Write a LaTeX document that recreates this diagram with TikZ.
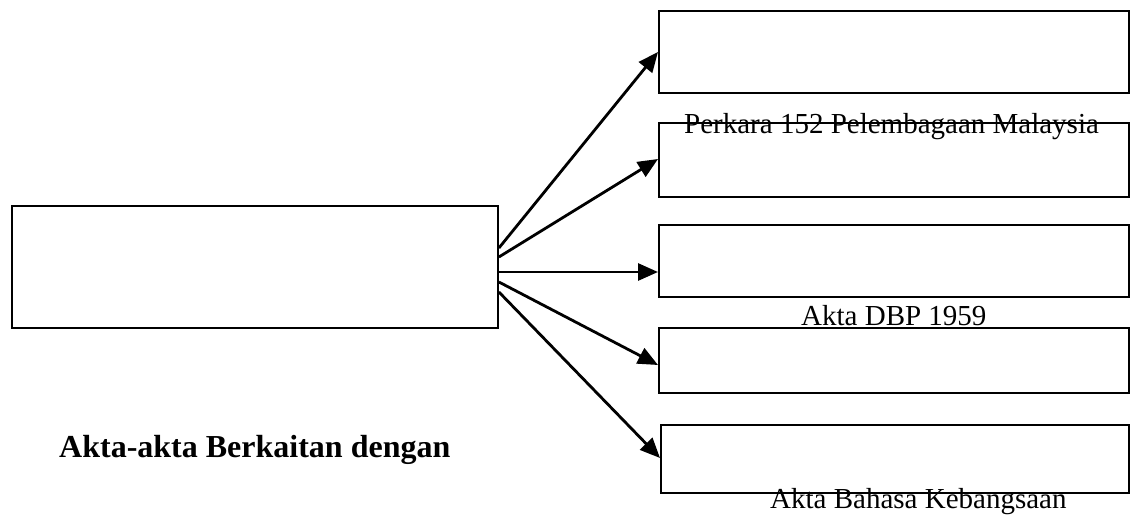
\documentclass[tikz,border=0pt]{standalone}
\usepackage{fontspec}
\setmainfont{Liberation Serif}
\usetikzlibrary{arrows.meta}
\begin{document}
\begin{tikzpicture}[x=1pt,y=-1pt,
  box/.style={draw, line width=1.9pt, rectangle, inner sep=0pt, anchor=north west},
  arr/.style={line width=2.8pt, -{Triangle[length=20pt,width=17pt]}},
  lbl/.style={anchor=base west, inner sep=0pt, font=\fontsize{29}{33}\selectfont},
  ttl/.style={anchor=base west, inner sep=0pt, font=\fontsize{32}{36}\selectfont\bfseries}]
\useasboundingbox (0,0) rectangle (1133,515);
\node[box, minimum width=486pt, minimum height=122pt] (L) at (11,205) {};
\node[box, minimum width=470pt, minimum height=82pt] (B1) at (658,10) {};
\node[box, minimum width=470pt, minimum height=74pt] (B2) at (658,122) {};
\node[box, minimum width=470pt, minimum height=72pt] (B3) at (658,224) {};
\node[box, minimum width=470pt, minimum height=65pt] (B4) at (658,327) {};
\node[box, minimum width=468pt, minimum height=68pt] (B5) at (660,424) {};
\draw[arr] ([yshift=-43pt]L.north east) -- ([yshift=-42pt]B1.north west);
\draw[arr] ([yshift=-52pt]L.north east) -- ([yshift=-37pt]B2.north west);
\draw[arr] ([yshift=-67pt]L.north east) -- ([yshift=-48pt]B3.north west);
\draw[arr] ([yshift=-77pt]L.north east) -- ([yshift=-38pt]B4.north west);
\draw[arr] ([yshift=-87pt]L.north east) -- ([yshift=-34pt]B5.north west);
\node[lbl] (t1) at (684,133) {Perkara 152 Pelembagaan Malaysia};
\node[lbl] (t2) at (801,325) {Akta DBP 1959};
\node[lbl] (t3) at (770,508) {Akta Bahasa Kebangsaan};
\node[ttl] (t4) at (59,457) {Akta-akta Berkaitan dengan};
\end{tikzpicture}
\end{document}
